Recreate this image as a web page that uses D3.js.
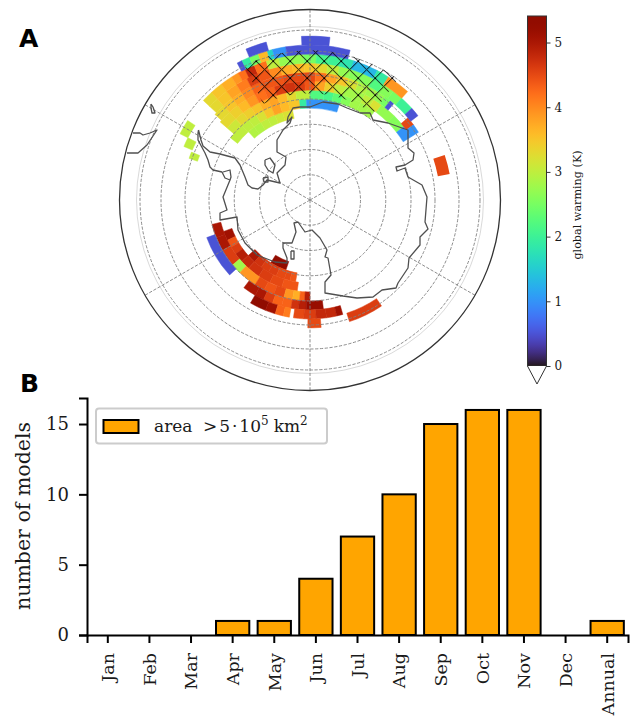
<!DOCTYPE html>
<html>
<head>
<meta charset="utf-8">
<script src="https://cdn.jsdelivr.net/npm/d3@7"></script>
<style>
  body { margin: 0; background: #fff; }
  text { font-family: "DejaVu Serif", serif; fill: #1a1a1a; }
</style>
</head>
<body>
<div id="chart"></div>
<script>
// panel B
const months = ['Jan', 'Feb', 'Mar', 'Apr', 'May', 'Jun', 'Jul', 'Aug', 'Sep', 'Oct', 'Nov', 'Dec', 'Annual'];
const modelCounts = [0, 0, 0, 1, 1, 4, 7, 10, 15, 16, 16, 0, 1];
const countTicks = [0, 5, 10, 15];

// panel A grid
const ringLats = [-80, -70, -60, -50, -40, -30, -20];
const gridLons = [0, 60, 120, 180, 240, 300];
const warmingTicks = [0, 1, 2, 3, 4, 5];

// latitude edges of the model grid rows, pole side first
const rowEdges = [-64.2, -60.7, -57.1, -53.6, -50, -46.3, -42.5, -38.8, -35, -31.3, -27.1, -22.9];

// [lon from, lon to, warming K], one list per row
const row0 = [[199, 212, 5.3]];
const row1 = [[222, 228, 5.0], [216, 222, 4.7], [210, 216, 4.6], [204, 210, 4.6], [198, 204, 4.5], [194, 198, 4.5], [190, 194, 4.4]];
const row2 = [[-42, -37.5, 2.9], [-37.5, -32.5, 2.9], [-32.5, -27.5, 3.0], [-27.5, -22.5, 3.0], [-22.5, -17.5, 3.1], [-17.5, -11, 3.2],
  [244, 250, 5.1], [239, 244, 4.4], [234, 239, 4.6], [228, 234, 4.9], [222, 228, 4.8], [214, 222, 4.7], [206, 214, 4.6], [198, 206, 4.5], [188, 198, 4.4]];
const row3 = [[-52, -42.5, 3.0], [-42.5, -37.5, 3.0], [-37.5, -32.5, 3.0], [-32.5, -27.5, 3.2], [-27.5, -22.5, 3.5], [-22.5, -17.5, 3.8], [-17.5, -12.5, 3.6], [-12.5, -6, 3.5], [-6, -2, 1.9], [-2, 17, 1.0],
  [248, 256, 5.0], [240, 248, 5.0], [230, 240, 4.6], [224, 230, 2.8], [213, 224, 3.9], [207, 213, 4.5], [201, 207, 4.4], [195, 201, 4.5], [190, 195, 3.9], [186, 190, 3.7], [183, 186, 4.3], [180, 183, 4.9]];
const row4 = [[-49, -42.5, 3.1], [-42.5, -37.5, 3.3], [-37.5, -32.5, 3.4], [-32.5, -27.5, 3.5], [-27.5, -22.5, 3.7], [-22.5, -17.5, 3.8], [-17.5, -12.5, 3.6], [-12.5, -7.5, 3.3], [-7.5, 0, 3.0], [0, 7.5, 2.2], [7.5, 12.5, 2.1], [12.5, 17.5, 2.3], [17.5, 22.5, 2.6], [22.5, 27.5, 2.8], [27.5, 32.5, 2.8], [32.5, 36, 2.8],
  [227, 250, 0.5], [210, 217, 5.0], [205, 210, 5.0], [200, 205, 4.6], [195, 200, 4.3], [190, 195, 4.3], [186, 190, 4.7], [182, 186, 4.9], [173, 182, 5.2]];
const row5 = [[-49, -42.5, 3.3], [-42.5, -37.5, 3.4], [-37.5, -32.5, 3.6], [-32.5, -27.5, 3.9], [-27.5, -22.5, 4.2], [-22.5, -17.5, 4.3], [-17.5, -12.5, 4.6], [-12.5, -7.5, 4.7], [-7.5, -2.5, 4.6], [-2.5, 2.5, 4.4], [2.5, 7.5, 3.8], [7.5, 12.5, 3.4], [12.5, 17.5, 3.0], [17.5, 27.5, 2.8], [27.5, 32.5, 3.0], [32.5, 37, 3.2], [37, 45, 2.7], [45, 52, 2.6], [52, 58, 1.0],
  [202, 210, 5.4], [197, 202, 5.1], [193, 197, 4.3], [190, 193, 4.1], [183, 188, 4.5], [177, 183, 4.6], [172, 177, 4.8], [167, 172, 4.8], [164, 167, 5.1]];
const row6 = [[-48, -42.5, 3.3], [-42.5, -37.5, 3.5], [-37.5, -32.5, 3.7], [-32.5, -27.5, 4.0], [-27.5, -22.5, 4.3], [-22.5, -12.5, 4.4], [-12.5, -2.5, 4.5], [-2.5, 2.5, 4.5], [2.5, 7.5, 4.2], [7.5, 12.5, 3.8], [12.5, 17.5, 3.5], [17.5, 22.5, 3.2], [22.5, 27.5, 2.9], [27.5, 32.5, 2.8], [32.5, 36, 2.7], [36, 39, 2.5], [39, 41, 0.5], [50, 54, 4.5], [54, 58, 1.0], [-71, -68, 3.0],
  [175, 181, 4.5], [146, 162, 4.6]];
const row7 = [[-47, -42.5, 3.3], [-42.5, -37.5, 3.5], [-37.5, -32.5, 3.8], [-32.5, -27.5, 4.1], [-27.5, -22.5, 4.6], [-22.5, -17.5, 4.4], [-17.5, -12.5, 4.0], [-12.5, -7.5, 3.7], [-7.5, -2.5, 3.6], [-2.5, 2.5, 3.5], [2.5, 7.5, 3.3], [7.5, 12.5, 3.0], [12.5, 17.5, 2.7], [17.5, 27.5, 2.6], [27.5, 32.5, 2.2], [32.5, 37.5, 2.6], [37.5, 42, 2.5], [42, 48, 2.0], [48, 52, 0.5], [-67, -63, 3.0]];
const row8 = [[-47, -42.5, 3.3], [-42.5, -37.5, 3.5], [-37.5, -32.5, 3.7], [-32.5, -29.5, 3.9], [-29.5, -26.5, 4.2], [-26.5, -22.5, 4.8], [-22.5, -17.5, 4.2], [-17.5, -12.5, 3.0], [-12.5, -2.5, 2.7], [-2.5, 2.5, 2.5], [2.5, 7.5, 2.1], [7.5, 12.5, 2.0], [12.5, 17.5, 1.8], [17.5, 27.5, 1.3], [27.5, 32.5, 1.9], [32.5, 42, 3.9], [-63, -57, 3.0]];
const row9 = [[-28, -26, 0.5], [-26, -23, 1.9], [-23, -19.5, 2.5], [-19.5, -16, 3.6], [-16, -14, 1.6], [-14, -9, 1.0], [-9, 15, 0.5]];
const row10 = [[-23, -15.5, 0.5], [-3, 7, 0.5]];
const cellRows = [row0, row1, row2, row3, row4, row5, row6, row7, row8, row9, row10];

// the lone cell east of the main patch sits on its own latitude limits
const loneLat = [-37.9, -32.9];
const loneCell = [71.5, 79.5, 4.5];

// stippled region, lon and lat limits
const hatchLon = [-26, 36];
const hatchLat = [-47.6, -29.6];

// coastlines in map units, pole at 0,0, x to the right, y up
const coastMain = [[-111.5, 70], [-109, 60], [-107, 54], [-100, 48], [-90, 46], [-75, 42], [-70, 35], [-65, 23], [-62, 15], [-58, 12], [-52, 11], [-47, 15], [-43, 20], [-30, 17], [-33, 27], [-25, 35], [-24, 43], [-33, 48], [-33, 60], [-27, 70], [-20, 77], [-18, 83], [-23, 77], [-22, 83], [-17, 92], [-10, 93], [0, 93], [13, 98], [28, 96], [37, 92], [50, 87], [60, 87], [63, 80], [78, 77], [92, 72], [98, 70], [98, 52], [104, 47], [103, 40], [95, 35], [86, 33], [87, 29], [95, 32], [98, 23], [112, 15], [117, 3], [115, -22], [118, -29], [110, -37], [110, -45], [99, -58], [98, -68], [88, -83], [86, -88], [72, -90], [63, -97], [47, -98], [33, -96], [15, -93], [15, -82], [21, -75], [18, -58], [15, -57], [17, -50], [10, -38], [2, -30], [-5, -32], [-12, -22], [-16, -23], [-14, -32], [-18, -43], [-27, -43], [-27, -48], [-23, -58], [-23, -63], [-35, -62], [-48, -57], [-53, -55], [-65, -43], [-72, -30], [-73, -17], [-90, -20], [-90, -13], [-83, -10], [-87, 3], [-80, 20], [-85, 22], [-88, 28], [-97, 30], [-100, 33], [-102, 40], [-105, 47], [-112, 60], [-112, 67], [-111.5, 70]];
const coastIsle1 = [[-45, 40], [-40, 42], [-35, 35], [-37, 27], [-42, 30], [-45, 35], [-45, 40]];
const coastIsle2 = [[-47, 22], [-42, 23], [-42, 18], [-46, 18], [-47, 22]];
const coastIsle3 = [[-19, -51], [-16, -51], [-16, -59], [-19, -59], [-19, -51]];
const coastIsle4 = [[-87, 28], [-80, 30], [-79, 23], [-80, 20]];
const coastIsle5 = [[-159, 96], [-157, 93], [-155, 87], [-158, 87], [-159, 92], [-159, 96]];
const coastTip = [[-183, 47], [-172, 47], [-163, 55], [-155, 67], [-153, 70], [-160, 67], [-167, 65], [-170, 67], [-177, 67]];
const coastLines = [coastMain, coastIsle1, coastIsle2, coastIsle3, coastIsle4, coastIsle5, coastTip];

const width = 638, height = 717;
const svg = d3.select('#chart').append('svg')
  .attr('width', width)
  .attr('height', height)
  .style('display', 'block');
const defs = svg.append('defs');

// ----- panel A -----
const cx = 310, cy = 200, mapR = 190.5;
const rLat = d3.scaleLinear().domain([-90, -50, -30, -20]).range([0, 101, 149, 170]);
const color = d3.scaleSequential(d3.interpolateTurbo).domain([0, 5.41]);
const mapX = d3.scaleLinear().domain([-190, 190]).range([cx - 190, cx + 190]);
const mapY = d3.scaleLinear().domain([-190, 190]).range([cy + 190, cy - 190]);
const toRad = d => d * Math.PI / 180;

const map = svg.append('g').attr('transform', `translate(${cx},${cy})`);
const arc = d3.arc();

cellRows.forEach((row, i) => {
  map.append('g').selectAll('path')
    .data(row)
    .enter()
    .append('path')
    .attr('d', d => arc({
      innerRadius: rLat(rowEdges[i]),
      outerRadius: rLat(rowEdges[i + 1]),
      startAngle: toRad(d[0]),
      endAngle: toRad(d[1])
    }))
    .attr('fill', d => color(d[2]))
    .attr('stroke', d => color(d[2]))
    .attr('stroke-width', 0.5);
});

map.append('path')
  .attr('d', arc({
    innerRadius: rLat(loneLat[0]),
    outerRadius: rLat(loneLat[1]),
    startAngle: toRad(loneCell[0]),
    endAngle: toRad(loneCell[1])
  }))
  .attr('fill', color(loneCell[2]));

// grid
map.append('g').selectAll('circle')
  .data(ringLats)
  .enter()
  .append('circle')
  .attr('r', d => rLat(d))
  .attr('fill', 'none')
  .attr('stroke', '#808080')
  .attr('stroke-width', 0.9)
  .attr('stroke-dasharray', '3.2,1.6');
map.append('circle').attr('r', 173.5).attr('fill', 'none').attr('stroke', '#c8c8c8').attr('stroke-width', 0.7);

map.append('g').selectAll('line')
  .data(gridLons)
  .enter()
  .append('line')
  .attr('x2', d => mapR * Math.sin(toRad(d)))
  .attr('y2', d => -mapR * Math.cos(toRad(d)))
  .attr('stroke', '#808080')
  .attr('stroke-width', 0.9)
  .attr('stroke-dasharray', '3.2,1.6');

// hatching
const pattern = defs.append('pattern')
  .attr('id', 'xhatch')
  .attr('patternUnits', 'userSpaceOnUse')
  .attr('x', cx + 1.7 - 8.5)
  .attr('y', 56.7 - 8.5)
  .attr('width', 17)
  .attr('height', 17);
pattern.append('path').attr('d', 'M0,0L17,17M17,0L0,17').attr('stroke', '#000').attr('stroke-width', 1);

map.append('path')
  .attr('d', arc({
    innerRadius: rLat(hatchLat[0]),
    outerRadius: rLat(hatchLat[1]),
    startAngle: toRad(hatchLon[0]),
    endAngle: toRad(hatchLon[1])
  }))
  .attr('fill', 'url(#xhatch)');

// coast
const coast = d3.line().x(d => mapX(d[0])).y(d => mapY(d[1]));
svg.append('g').selectAll('path')
  .data(coastLines)
  .enter()
  .append('path')
  .attr('d', coast)
  .attr('fill', 'none')
  .attr('stroke', '#505050')
  .attr('stroke-width', 1.3)
  .attr('stroke-linejoin', 'round');

map.append('circle').attr('r', mapR).attr('fill', 'none').attr('stroke', '#333').attr('stroke-width', 1.3);

// colorbar
const cbX = 527.5, cbW = 19;
const cbY = d3.scaleLinear().domain([0, 5.41]).range([366, 16]);
const cbGrad = defs.append('linearGradient')
  .attr('id', 'turbo')
  .attr('x1', 0).attr('x2', 0).attr('y1', 1).attr('y2', 0);
cbGrad.selectAll('stop')
  .data(d3.range(0, 1.001, 0.02))
  .enter()
  .append('stop')
  .attr('offset', d => d)
  .attr('stop-color', d => d3.interpolateTurbo(d));
const cb = svg.append('g');
cb.append('rect')
  .attr('x', cbX).attr('y', cbY(5.41)).attr('width', cbW).attr('height', cbY(0) - cbY(5.41))
  .attr('fill', 'url(#turbo)').attr('stroke', '#333').attr('stroke-width', 1);
cb.append('path')
  .attr('d', d3.line()([[cbX, 366], [cbX + cbW / 2, 384], [cbX + cbW, 366]]))
  .attr('fill', '#fff').attr('stroke', '#333').attr('stroke-width', 1);

const cbAxis = svg.append('g')
  .attr('transform', `translate(${cbX + cbW},0)`)
  .call(d3.axisRight(cbY).tickValues(warmingTicks).tickFormat(d3.format('d')).tickSize(4).tickPadding(4));
cbAxis.select('.domain').remove();
cbAxis.selectAll('line').attr('stroke', '#333');
cbAxis.selectAll('text').style('font-family', '"DejaVu Serif"').style('font-size', '12px');

svg.append('text')
  .attr('transform', 'translate(581,205) rotate(-90)')
  .attr('text-anchor', 'middle')
  .style('font-size', '11.2px')
  .text('global warming (K)');

// panel letters
svg.selectAll('.letter')
  .data([['A', 19, 47], ['B', 20, 392]])
  .enter()
  .append('text')
  .attr('class', 'letter')
  .attr('x', d => d[1])
  .attr('y', d => d[2])
  .style('font-family', '"DejaVu Sans"')
  .style('font-weight', 'bold')
  .style('font-size', '25px')
  .style('fill', '#000')
  .text(d => d[0]);

// ----- panel B -----
const x = d3.scaleBand().domain(months).range([87, 628]).paddingInner(0.2).paddingOuter(0.1);
const y = d3.scaleLinear().domain([0, 16.85]).range([635, 398]);

svg.append('g').selectAll('rect')
  .data(modelCounts)
  .enter()
  .append('rect')
  .attr('x', (d, i) => x(months[i]))
  .attr('width', x.bandwidth())
  .attr('y', d => y(d))
  .attr('height', d => y(0) - y(d))
  .attr('fill', '#ffa500')
  .attr('stroke', d => d === 0 ? '#bbb' : '#000')
  .attr('stroke-width', 2);

const xAxis = svg.append('g')
  .attr('transform', 'translate(0,635)')
  .call(d3.axisBottom(x).tickSize(8));
xAxis.selectAll('.domain, line').attr('stroke', '#000').attr('stroke-width', 2);
xAxis.selectAll('text')
  .style('font-family', '"DejaVu Serif"')
  .style('font-size', '17.5px')
  .attr('text-anchor', 'end')
  .attr('transform', 'rotate(-90)')
  .attr('x', -18)
  .attr('y', 0)
  .attr('dy', '0.36em');

const yAxis = svg.append('g')
  .attr('transform', 'translate(87,0)')
  .call(d3.axisLeft(y).tickValues(countTicks).tickSize(8).tickPadding(10));
yAxis.selectAll('.domain, line').attr('stroke', '#000').attr('stroke-width', 2);
yAxis.selectAll('text').style('font-family', '"DejaVu Serif"').style('font-size', '18px');

svg.append('text')
  .attr('transform', 'translate(30,516) rotate(-90)')
  .attr('text-anchor', 'middle')
  .style('font-size', '20.5px')
  .text('number of models');

// legend
const legend = svg.append('g');
legend.append('rect')
  .attr('x', 96).attr('y', 408.5).attr('width', 231).attr('height', 35).attr('rx', 3)
  .attr('fill', '#fff').attr('stroke', '#ccc').attr('stroke-width', 2);
legend.append('rect')
  .attr('x', 103.5).attr('y', 420).attr('width', 35).attr('height', 13)
  .attr('fill', '#ffa500').attr('stroke', '#000').attr('stroke-width', 2);
const legendText = legend.append('text').attr('x', 154).attr('y', 431.5).style('font-size', '17px');
legendText.append('tspan').text('area ');
legendText.append('tspan').attr('dx', 5).text('>');
legendText.append('tspan').attr('dx', 2).text('5');
legendText.append('tspan').attr('dx', 2).text('·');
legendText.append('tspan').attr('dx', 2).text('10');
legendText.append('tspan').attr('dy', -7).style('font-size', '12px').text('5');
legendText.append('tspan').attr('dy', 7).attr('dx', 5).text('km');
legendText.append('tspan').attr('dy', -7).style('font-size', '12px').text('2');
</script>
</body>
</html>
